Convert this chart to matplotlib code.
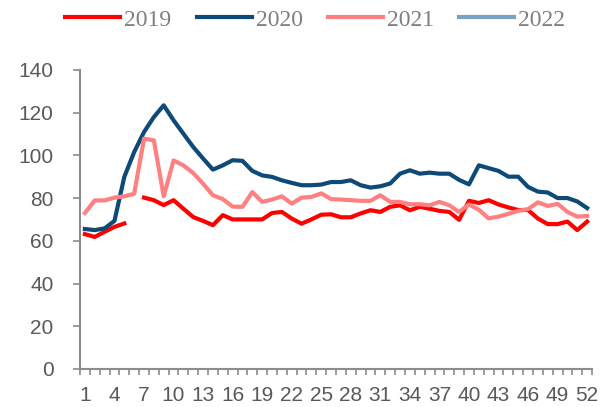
import numpy as np
import matplotlib
matplotlib.use("Agg")
import matplotlib.pyplot as plt

# semanas 1..52
weeks = list(range(1, 53))

s2019 = [63.1, 61.8, 64.2, 66.5, 68.1, np.nan, 80.2, 79.0, 76.7, 79.0,
         75.0, 71.1, 69.3, 67.3, 72.0, 70.0, 70.0, 70.0, 70.0, 73.0,
         73.5, 70.4, 68.0, 70.0, 72.2, 72.4, 71.0, 71.0, 72.8, 74.3,
         73.5, 75.9, 76.6, 74.3, 75.9, 75.0, 74.0, 73.5, 69.8, 78.7,
         77.7, 79.0, 77.0, 75.6, 74.4, 74.4, 70.4, 67.8, 67.8, 69.0,
         65.0, 69.0]

s2020 = [65.5, 65.0, 65.8, 69.3, 89.9, 101.5, 110.9, 117.9, 123.4, 116.4,
         110.1, 103.9, 98.5, 93.3, 95.3, 97.7, 97.4, 92.7, 90.6, 89.9,
         88.3, 87.1, 86.0, 86.0, 86.3, 87.5, 87.5, 88.3, 86.0, 84.9,
         85.5, 86.8, 91.4, 93.0, 91.4, 91.9, 91.4, 91.4, 88.5, 86.4,
         95.3, 94.0, 92.7, 90.0, 90.0, 85.2, 83.0, 82.6, 80.0, 80.0,
         78.4, 75.3]

s2021 = [73.0, 78.9, 78.9, 80.2, 80.8, 82.0, 107.8, 107.0, 80.8, 97.6,
         95.3, 91.7, 86.7, 81.3, 79.5, 76.0, 75.9, 82.8, 78.2, 79.3,
         80.8, 77.4, 80.2, 80.5, 82.2, 79.5, 79.3, 79.0, 78.7, 78.7,
         81.3, 78.2, 78.2, 77.1, 77.1, 76.6, 78.2, 76.6, 73.5, 77.0,
         74.5, 70.5, 71.3, 72.6, 74.0, 74.8, 78.0, 76.3, 77.3, 73.5,
         71.3, 71.6]

s2022 = []  # sem dados, só aparece na legenda

y_ticks = [0, 20, 40, 60, 80, 100, 120, 140]
x_labels = weeks[::3]


def main():
    fig = plt.figure(figsize=(6.06, 4.07), dpi=100)
    ax = fig.add_axes([0.132, 0.0934, 0.845, 0.735])

    ax.plot(weeks, s2019, color='#ff0000', lw=3, label='2019')
    ax.plot(weeks, s2020, color='#0e4a78', lw=3, label='2020')
    ax.plot(weeks, s2021, color='#ff8080', lw=3, label='2021')
    ax.plot(weeks[:len(s2022)], s2022, color='#7ba2c3', lw=3, label='2022')

    ax.set_xlim(0.5, 52.5)
    ax.set_ylim(0, 140)

    # eixos
    for side in ['top', 'right']:
        ax.spines[side].set_visible(False)
    for side in ['left', 'bottom']:
        ax.spines[side].set_color('#8c8c8c')
        ax.spines[side].set_linewidth(1.5)

    ax.set_yticks(y_ticks)
    ax.set_yticklabels([str(v) for v in y_ticks], fontsize=15,
                       family='Liberation Sans', color='#595959')
    ax.tick_params(axis='y', direction='out', length=5, width=1.2,
                   color='#8c8c8c', pad=14)

    ax.set_xticks(x_labels)
    ax.set_xticklabels([str(v) for v in x_labels], fontsize=15,
                       family='Liberation Sans', color='#595959')
    ax.tick_params(axis='x', which='major', length=0, pad=12.5)
    ax.set_xticks(np.arange(0.5, 53, 1.0), minor=True)
    ax.tick_params(axis='x', which='minor', direction='out', length=4,
                   width=1.2, color='#8c8c8c')

    leg = fig.legend(loc='center', bbox_to_anchor=(0.52, 0.951), ncol=4,
                     frameon=False, handlelength=2.33, handletextpad=0.17,
                     columnspacing=1.06,
                     prop={'family': 'Liberation Serif', 'size': 17})
    for t in leg.get_texts():
        t.set_color('#7f7f7f')

    fig.savefig('out.png', dpi=100)


if __name__ == "__main__":
    main()
